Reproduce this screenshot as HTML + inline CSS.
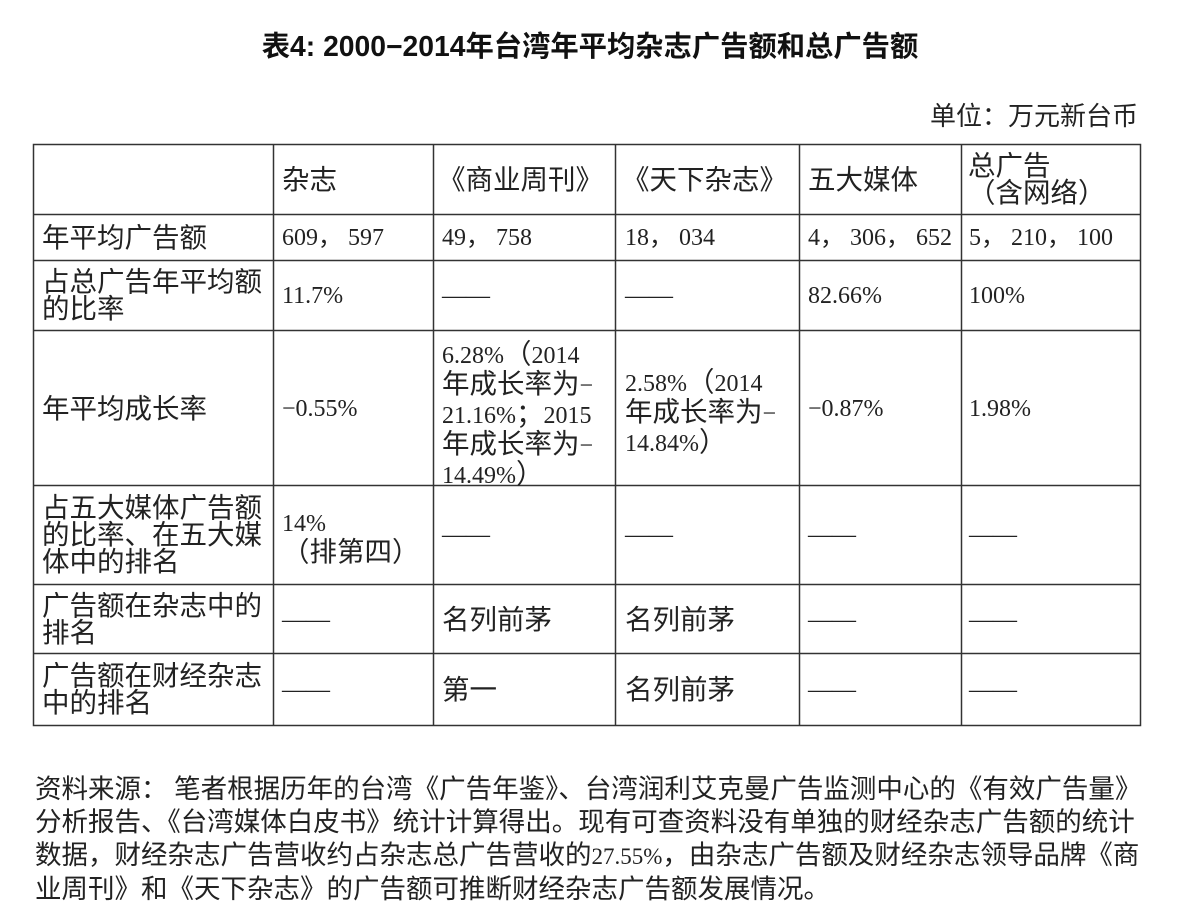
<!DOCTYPE html>
<html><head><meta charset="utf-8"><style>
html,body{margin:0;padding:0;background:#fff;}
body{width:1180px;height:908px;position:relative;overflow:hidden;font-family:"Liberation Serif","Noto Sans CJK SC",sans-serif;color:#222;}
.t{position:absolute;font-size:27.5px;line-height:27px;white-space:nowrap;}
.n{font-size:24px;}
.title{position:absolute;left:0;width:1180px;top:24px;text-align:center;font-family:"Liberation Sans","Noto Sans CJK SC",sans-serif;font-weight:bold;font-size:28.3px;color:#111;}
.unit{position:absolute;right:42px;top:96px;font-size:26px;}
.note{position:absolute;left:35px;top:773px;width:1140px;font-size:26.5px;line-height:33px;white-space:nowrap;}
.note .n{font-size:23px;}
</style></head><body>
<div class="title">表4: 2000−2014年台湾年平均杂志广告额和总广告额</div>
<div class="unit">单位：万元新台币</div>
<svg style="position:absolute;left:0;top:0" width="1180" height="908">
<g stroke="#333" stroke-width="1.5" fill="none">
<rect x="33.5" y="144.5" width="1107" height="581"/>
<line x1="33" y1="214.5" x2="1141" y2="214.5"/>
<line x1="33" y1="260.5" x2="1141" y2="260.5"/>
<line x1="33" y1="330.5" x2="1141" y2="330.5"/>
<line x1="33" y1="485.5" x2="1141" y2="485.5"/>
<line x1="33" y1="584.5" x2="1141" y2="584.5"/>
<line x1="33" y1="653.5" x2="1141" y2="653.5"/>
<line x1="273.5" y1="144" x2="273.5" y2="726"/>
<line x1="433.5" y1="144" x2="433.5" y2="726"/>
<line x1="615.5" y1="144" x2="615.5" y2="726"/>
<line x1="799.5" y1="144" x2="799.5" y2="726"/>
<line x1="961.5" y1="144" x2="961.5" y2="726"/>
</g></svg>
<div class="t" style="left:282px;top:166px">杂志</div>
<div class="t" style="left:438px;top:166px">《商业周刊》</div>
<div class="t" style="left:622px;top:166px">《天下杂志》</div>
<div class="t" style="left:808px;top:166px">五大媒体</div>
<div class="t" style="left:968px;top:152px">总广告<br>（含网络）</div>

<div class="t" style="left:42px;top:224px">年平均广告额</div>
<div class="t n" style="left:282px;top:225px">609， 597</div>
<div class="t n" style="left:442px;top:225px">49， 758</div>
<div class="t n" style="left:625px;top:225px">18， 034</div>
<div class="t n" style="left:808px;top:225px">4， 306， 652</div>
<div class="t n" style="left:969px;top:225px">5， 210， 100</div>

<div class="t" style="left:42px;top:268px">占总广告年平均额<br>的比率</div>
<div class="t n" style="left:282px;top:283px">11.7%</div>
<div class="t n" style="left:442px;top:283px">——</div>
<div class="t n" style="left:625px;top:283px">——</div>
<div class="t n" style="left:808px;top:283px">82.66%</div>
<div class="t n" style="left:969px;top:283px">100%</div>

<div class="t" style="left:42px;top:395px">年平均成长率</div>
<div class="t n" style="left:282px;top:396px">−0.55%</div>
<div class="t" style="left:442px;top:340px"><span class="n">6.28%</span>（<span class="n">2014</span><br>年成长率为<span class="n">−</span><br><span class="n">21.16%</span>；<span class="n">2015</span><br>年成长率为<span class="n">−</span><br><span class="n">14.49%</span>）</div>
<div class="t" style="left:625px;top:368px"><span class="n">2.58%</span>（<span class="n">2014</span><br>年成长率为<span class="n">−</span><br><span class="n">14.84%</span>）</div>
<div class="t n" style="left:808px;top:396px">−0.87%</div>
<div class="t n" style="left:969px;top:396px">1.98%</div>

<div class="t" style="left:42px;top:494px">占五大媒体广告额<br>的比率、在五大媒<br>体中的排名</div>
<div class="t" style="left:282px;top:508px"><span class="n">14%</span><br>（排第四）</div>
<div class="t n" style="left:442px;top:522px">——</div>
<div class="t n" style="left:625px;top:522px">——</div>
<div class="t n" style="left:808px;top:522px">——</div>
<div class="t n" style="left:969px;top:522px">——</div>

<div class="t" style="left:42px;top:592px">广告额在杂志中的<br>排名</div>
<div class="t n" style="left:282px;top:607px">——</div>
<div class="t" style="left:442px;top:606px">名列前茅</div>
<div class="t" style="left:625px;top:606px">名列前茅</div>
<div class="t n" style="left:808px;top:607px">——</div>
<div class="t n" style="left:969px;top:607px">——</div>

<div class="t" style="left:42px;top:662px">广告额在财经杂志<br>中的排名</div>
<div class="t n" style="left:282px;top:677px">——</div>
<div class="t" style="left:442px;top:676px">第一</div>
<div class="t" style="left:625px;top:676px">名列前茅</div>
<div class="t n" style="left:808px;top:677px">——</div>
<div class="t n" style="left:969px;top:677px">——</div>
<div class="note">资料来源： 笔者根据历年的台湾《广告年鉴》、台湾润利艾克曼广告监测中心的《有效广告量》<br>分析报告、《台湾媒体白皮书》统计计算得出。现有可查资料没有单独的财经杂志广告额的统计<br>数据，财经杂志广告营收约占杂志总广告营收的<span class="n">27.55%</span>，由杂志广告额及财经杂志领导品牌《商<br>业周刊》和《天下杂志》的广告额可推断财经杂志广告额发展情况。</div>
</body></html>
